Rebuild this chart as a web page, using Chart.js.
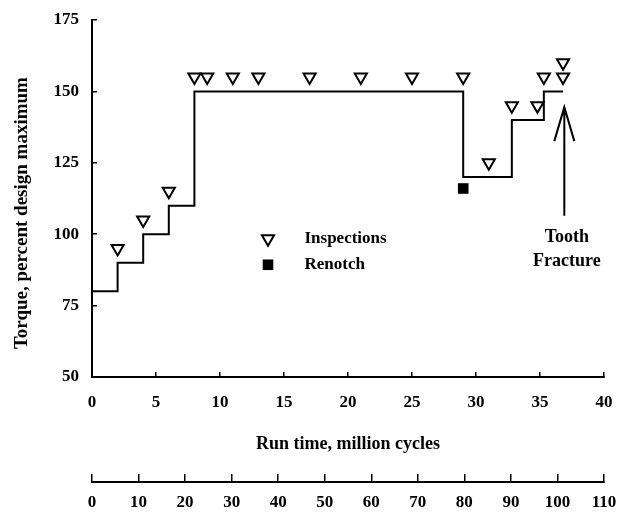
<!DOCTYPE html>
<html>
<head>
<meta charset="utf-8">
<script src="https://cdn.jsdelivr.net/npm/chart.js@4.4.0/dist/chart.umd.min.js"></script>
<style>
  html, body { margin: 0; padding: 0; background: #fff; }
  #wrap { width: 618px; height: 514px; }
</style>
</head>
<body>
<div id="wrap"><canvas id="torque"></canvas></div>
<script>
// torque steps: each point is the start of a load level (million cycles, % design max)
const stepCycles = [0, 2, 4, 6, 8, 29, 32.8, 35.3, 36.8];
const stepTorque = [80, 90, 100, 110, 150, 120, 140, 150, 150];

// inspections (plotted just above the load line)
const inspCycles = [2, 4, 6, 8, 9, 11, 13, 17, 21, 25, 29, 31, 32.8, 34.8, 35.3, 36.8, 36.8];
const inspTorque = [95, 105, 115, 155, 155, 155, 155, 155, 155, 155, 155, 125, 145, 145, 155, 155, 160];

// renotch
const renotchCycles = [29];
const renotchTorque = [116];

// tick labels
const yTicks = [50, 75, 100, 125, 150, 175];
const xTicks = [0, 5, 10, 15, 20, 25, 30, 35, 40];
const x2Ticks = [0, 10, 20, 30, 40, 50, 60, 70, 80, 90, 100, 110];

// annotation anchors (data units)
const arrowX = 36.9, arrowTip = 144.5, arrowTail = 106.5;
const noteX = 37.1, noteLines = ['Tooth', 'Fracture'], noteY = [98.8, 90.6];
const legendX = 13.75, legendTextX = 16.6, legendY = [98.4, 89.3];

const BLACK = '#000';
const serif = "'Liberation Serif', 'Times New Roman', serif";
const tickFont = { family: serif, size: 17, weight: 'bold' };
const titleFont = { family: serif, size: 18, weight: 'bold' };

const toPoints = (xs, ys) => xs.map((v, i) => ({ x: v, y: ys[i] }));
const fixTicks = list => s => { s.ticks = list.map(v => ({ value: v })); };

// fixed axis size; drop the label overhang padding so layout.padding decides the plot box
const fitX = h => s => { s.height = h; s.paddingLeft = 0; s.paddingRight = 0; };
const fitY = w => s => { s.width = w; s.paddingTop = 0; s.paddingBottom = 0; };

const inspStyle = { pointStyle: 'triangle', rotation: 180, radius: 7, borderWidth: 2 };
const renotchStyle = { pointStyle: 'rect', rotation: 0, radius: 7.5, borderWidth: 0 };

const annotate = {
    id: 'annotate',
    afterDraw(chart) {
        const { ctx, scales: { x, y } } = chart;
        ctx.save();
        ctx.strokeStyle = BLACK;
        ctx.fillStyle = BLACK;
        ctx.lineWidth = 2;

        // arrow pointing at the fracture
        const ax = x.getPixelForValue(arrowX);
        const tip = y.getPixelForValue(arrowTip);
        const tail = y.getPixelForValue(arrowTail);
        ctx.beginPath();
        ctx.moveTo(ax, tail);
        ctx.lineTo(ax, tip);
        ctx.moveTo(ax - 10, tip + 34);
        ctx.lineTo(ax, tip);
        ctx.lineTo(ax + 10, tip + 34);
        ctx.stroke();

        ctx.font = `bold 18px ${serif}`;
        ctx.textAlign = 'center';
        ctx.textBaseline = 'middle';
        noteLines.forEach((t, i) => {
            ctx.fillText(t, x.getPixelForValue(noteX), y.getPixelForValue(noteY[i]));
        });

        // legend
        const lx = x.getPixelForValue(legendX);
        const tx = x.getPixelForValue(legendTextX);
        const ly0 = y.getPixelForValue(legendY[0]);
        const ly1 = y.getPixelForValue(legendY[1]);
        ctx.fillStyle = '#fff';
        Chart.helpers.drawPoint(ctx, inspStyle, lx, ly0);
        ctx.fillStyle = BLACK;
        Chart.helpers.drawPoint(ctx, renotchStyle, lx, ly1);
        ctx.font = `bold 17px ${serif}`;
        ctx.textAlign = 'left';
        ctx.fillText('Inspections', tx, ly0);
        ctx.fillText('Renotch', tx, ly1);

        // y axis title
        ctx.translate(22, y.getPixelForValue(107.4));
        ctx.rotate(-Math.PI / 2);
        ctx.textAlign = 'center';
        ctx.font = `bold 19px ${serif}`;
        ctx.fillText('Torque, percent design maximum', 0, 0);
        ctx.restore();
    }
};

new Chart(document.getElementById('torque'), {
    type: 'scatter',
    data: {
        datasets: [
            {
                label: 'Torque',
                data: toPoints(stepCycles, stepTorque),
                showLine: true,
                stepped: 'before',
                borderColor: BLACK,
                borderWidth: 2,
                pointRadius: 0,
                order: 3
            },
            {
                label: 'Inspections',
                data: toPoints(inspCycles, inspTorque),
                pointStyle: 'triangle',
                rotation: 180,
                pointRadius: 7,
                borderColor: BLACK,
                backgroundColor: '#fff',
                pointBorderWidth: 2,
                order: 1
            },
            {
                label: 'Renotch',
                data: toPoints(renotchCycles, renotchTorque),
                pointStyle: 'rect',
                pointRadius: 7.5,
                borderWidth: 0,
                backgroundColor: BLACK,
                order: 2
            }
        ]
    },
    options: {
        responsive: true,
        maintainAspectRatio: false,
        animation: false,
        layout: { padding: { left: 0, top: 20, right: 14, bottom: 6 } },
        plugins: { legend: { display: false }, tooltip: { enabled: false } },
        scales: {
            x: {
                type: 'linear', position: 'bottom', min: 0, max: 40, weight: 0,
                afterBuildTicks: fixTicks(xTicks),
                afterFit: fitX(105),
                grid: { drawOnChartArea: false, tickLength: -5, color: BLACK, lineWidth: 1.5 },
                border: { color: BLACK, width: 2 },
                ticks: { color: BLACK, font: tickFont, padding: 20, maxRotation: 0, autoSkip: false },
                title: { display: true, text: 'Run time, million cycles', color: BLACK, font: titleFont, padding: { top: 0, bottom: 27 } }
            },
            x2: {
                type: 'linear', position: 'bottom', min: 0, max: 110, weight: 1,
                afterBuildTicks: fixTicks(x2Ticks),
                afterFit: fitX(26),
                grid: { drawOnChartArea: false, tickLength: -8, color: BLACK, lineWidth: 1.5 },
                border: { color: BLACK, width: 2 },
                ticks: { color: BLACK, font: tickFont, padding: 18, maxRotation: 0, autoSkip: false }
            },
            y: {
                type: 'linear', position: 'left', min: 50, max: 175,
                afterBuildTicks: fixTicks(yTicks),
                afterFit: fitY(92),
                grid: { drawOnChartArea: false, tickLength: -5, color: BLACK, lineWidth: 1.5 },
                border: { color: BLACK, width: 2 },
                ticks: { color: BLACK, font: tickFont, padding: 18 }
            }
        }
    },
    plugins: [annotate]
});
</script>
</body>
</html>
